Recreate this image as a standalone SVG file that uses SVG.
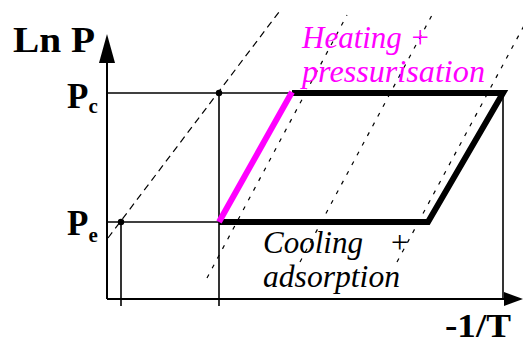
<svg xmlns="http://www.w3.org/2000/svg" width="523" height="343" viewBox="0 0 523 343">
<style>
.ax{stroke:#000;stroke-width:2;fill:none}
.thin{stroke:#000;stroke-width:1.6;fill:none}
.thick{stroke:#000;stroke-width:6;fill:none;stroke-linejoin:miter}
.mag{stroke:#ff00ff;stroke-width:6;fill:none}
.dashA{stroke:#000;stroke-width:1.2;stroke-dasharray:7 5;fill:none}
.dash{stroke:#000;stroke-width:1.2;stroke-dasharray:4 7;fill:none}
.lbl{font-family:'Liberation Serif',serif;font-weight:bold;fill:#000}
.it{font-family:'Liberation Serif',serif;font-style:italic;font-size:31px}
</style>
<rect width="523" height="343" fill="#fff"/>
<g id="isosteres">
<line class="dashA" x1="108" y1="238" x2="279" y2="12"/>
<line class="dash" x1="207" y1="278" x2="347" y2="15"/>
<line class="dash" x1="300" y1="262" x2="432" y2="15"/>
<line class="dash" x1="397" y1="262" x2="527" y2="20"/>
</g>
<g id="axes">
<line class="ax" x1="107" y1="299" x2="107" y2="60"/>
<polygon points="107,34 99,63 115,63" fill="#000"/>
<line class="ax" x1="107" y1="299" x2="506" y2="299"/>
<polygon points="504,292 523,299 504,306" fill="#000"/>
</g>
<g id="guides">
<line class="thin" x1="107" y1="93" x2="292" y2="93"/>
<line class="thin" x1="107" y1="222" x2="219" y2="222"/>
<line class="thin" x1="219" y1="93" x2="219" y2="306"/>
<line class="thin" x1="121" y1="222" x2="121" y2="306"/>
<line class="thin" x1="503" y1="93" x2="503" y2="299"/>
<circle cx="219" cy="93" r="3.2" fill="#000"/>
<circle cx="121" cy="222" r="3.2" fill="#000"/>
</g>
<g id="cycle">
<polyline class="thick" points="292,93 503,93 428,222 219,222"/>
<line class="mag" x1="219" y1="222" x2="292" y2="92"/>
</g>
<g id="labels">
<text class="lbl" x="13" y="52" font-size="36" textLength="82" lengthAdjust="spacingAndGlyphs">Ln P</text>
<text class="lbl" x="67" y="108" font-size="35">P<tspan font-size="21" y="113">c</tspan></text>
<text class="lbl" x="67" y="235" font-size="35">P<tspan font-size="21" y="242">e</tspan></text>
<text class="lbl" x="445" y="337" font-size="34" textLength="66" lengthAdjust="spacingAndGlyphs">-1/T</text>
</g>
<g id="heating-label" fill="#ff00ff">
<text class="it" x="302" y="48">Heating +</text>
<text class="it" x="302" y="82" textLength="183" lengthAdjust="spacingAndGlyphs">pressurisation</text>
</g>
<g id="cooling-label" fill="#000">
<text class="it" x="263" y="253">Cooling<tspan x="389">+</tspan></text>
<text class="it" x="263" y="287" textLength="137" lengthAdjust="spacingAndGlyphs">adsorption</text>
</g>
</svg>
